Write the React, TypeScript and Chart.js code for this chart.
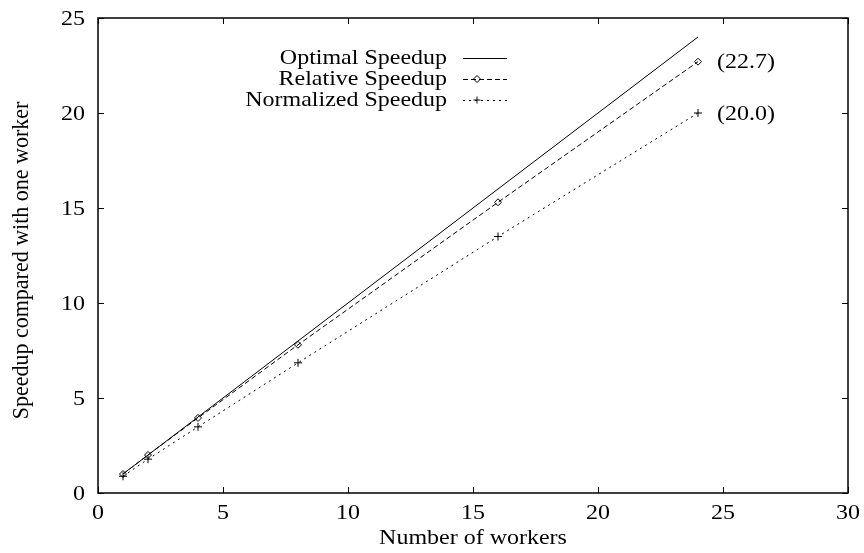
import React, { useEffect, useRef } from "react";
import { Chart, registerables } from "chart.js";

Chart.register(...registerables);

const workers = [1, 2, 4, 8, 16, 24];
const optimalSpeedup = [1, 2, 4, 8, 16, 24];
const relativeSpeedup = [1.0, 2.0, 3.95, 7.8, 15.3, 22.7];
const normalizedSpeedup = [0.88, 1.78, 3.48, 6.85, 13.5, 20.0];
const seriesNames = ["Optimal Speedup", "Relative Speedup", "Normalized Speedup"];
const xTickValues = [0, 5, 10, 15, 20, 25, 30];
const yTickValues = [0, 5, 10, 15, 20, 25];
const xTitle = "Number of workers";
const yTitle = "Speedup compared with one worker";

const FONT = '"Liberation Serif", "Times New Roman", serif';
const FS = 22;
const SX = 1.09;

function drawMarker(ctx: CanvasRenderingContext2D, style: string, x: number, y: number, r: number) {
  ctx.save();
  ctx.strokeStyle = "#000";
  ctx.lineWidth = 1;
  ctx.setLineDash([]);
  ctx.beginPath();
  if (style === "rectRot") {
    ctx.moveTo(x, y - r);
    ctx.lineTo(x + r, y);
    ctx.lineTo(x, y + r);
    ctx.lineTo(x - r, y);
    ctx.closePath();
  } else if (style === "cross") {
    ctx.moveTo(x - r, y);
    ctx.lineTo(x + r, y);
    ctx.moveTo(x, y - r);
    ctx.lineTo(x, y + r);
  }
  ctx.stroke();
  ctx.restore();
}

function text(ctx: CanvasRenderingContext2D, s: string, x: number, y: number, align: CanvasTextAlign, rot = 0) {
  ctx.save();
  ctx.translate(x, y);
  if (rot) {
    ctx.rotate(rot);
    ctx.scale(1, SX);
  } else {
    ctx.scale(SX, 1);
  }
  ctx.font = `${FS}px ${FONT}`;
  ctx.fillStyle = "#000";
  ctx.textAlign = align;
  ctx.textBaseline = "middle";
  ctx.fillText(s, 0, 0);
  ctx.restore();
}

const gnuplotPlugin = {
  id: "gnuplotDecor",
  afterDatasetsDraw(chart: any) {
    const ctx: CanvasRenderingContext2D = chart.ctx;
    const { left, right, top, bottom } = chart.chartArea;
    const xs = chart.scales.x;
    const ys = chart.scales.y;
    ctx.save();
    // border box
    ctx.strokeStyle = "#000";
    ctx.lineWidth = 1.5;
    ctx.setLineDash([]);
    ctx.strokeRect(left, top, right - left, bottom - top);
    // inward ticks (mirror)
    ctx.lineWidth = 1;
    const tl = 6;
    ctx.beginPath();
    xTickValues.forEach((v) => {
      const px = Math.round(xs.getPixelForValue(v)) + 0.5;
      ctx.moveTo(px, bottom);
      ctx.lineTo(px, bottom - tl);
      ctx.moveTo(px, top);
      ctx.lineTo(px, top + tl);
    });
    yTickValues.forEach((v) => {
      const py = Math.round(ys.getPixelForValue(v)) + 0.5;
      ctx.moveTo(left, py);
      ctx.lineTo(left + tl, py);
      ctx.moveTo(right, py);
      ctx.lineTo(right - tl, py);
    });
    ctx.stroke();

    // tick labels
    xTickValues.forEach((v) => {
      text(ctx, String(v), xs.getPixelForValue(v), bottom + 20, "center");
    });
    yTickValues.forEach((v) => {
      text(ctx, String(v), left - 13, ys.getPixelForValue(v) + 1, "right");
    });
    // axis titles
    text(ctx, xTitle, (left + right) / 2, 538, "center");
    text(ctx, yTitle, 22, (top + bottom) / 2 + 5, "center", -Math.PI / 2);

    // legend
    const textRight = 447;
    const lineStart = 463;
    const lineEnd = 507;
    const markerX = 477;
    const rowYs = [58, 79, 100];
    chart.data.datasets.forEach((ds: any, i: number) => {
      const y = rowYs[i];
      text(ctx, ds.label, textRight, y, "right");
      ctx.save();
      ctx.strokeStyle = "#000";
      ctx.lineWidth = 1;
      ctx.setLineDash(ds.borderDash || []);
      ctx.beginPath();
      ctx.moveTo(lineStart, y + 0.5);
      ctx.lineTo(lineEnd, y + 0.5);
      ctx.stroke();
      ctx.restore();
      if (ds.pointRadius > 0) drawMarker(ctx, ds.pointStyle, markerX, y, 3.5);
    });

    // end annotations
    [relativeSpeedup, normalizedSpeedup].forEach((arr) => {
      const last = arr.length - 1;
      const px = xs.getPixelForValue(workers[last]);
      const py = ys.getPixelForValue(arr[last]);
      text(ctx, `(${arr[last].toFixed(1)})`, px + 19, py + 1, "left");
    });
    ctx.restore();
  },
};

export default function App() {
  const ref = useRef<HTMLCanvasElement | null>(null);
  useEffect(() => {
    if (!ref.current) return;
    const toPts = (ys: number[]) => workers.map((x, i) => ({ x, y: ys[i] }));
    const chart = new Chart(ref.current, {
      type: "line",
      data: {
        datasets: [
          {
            label: seriesNames[0],
            data: toPts(optimalSpeedup),
            borderColor: "#000",
            borderWidth: 1,
            pointRadius: 0,
            fill: false,
          },
          {
            label: seriesNames[1],
            data: toPts(relativeSpeedup),
            borderColor: "#000",
            borderWidth: 1,
            borderDash: [5, 3],
            pointStyle: "rectRot",
            pointRadius: 3.5,
            pointBorderWidth: 1,
            pointBorderColor: "#000",
            pointBackgroundColor: "rgba(0,0,0,0)",
            fill: false,
          },
          {
            label: seriesNames[2],
            data: toPts(normalizedSpeedup),
            borderColor: "#000",
            borderWidth: 1,
            borderDash: [2, 4],
            pointStyle: "cross",
            pointRadius: 4,
            pointBorderWidth: 1,
            pointBorderColor: "#000",
            fill: false,
          },
        ],
      },
      options: {
        animation: false,
        responsive: false,
        devicePixelRatio: 1,
        layout: { padding: { top: 18, right: 16, left: 0, bottom: 0 } },
        plugins: { legend: { display: false }, tooltip: { enabled: false } },
        scales: {
          x: {
            type: "linear",
            min: 0,
            max: 30,
            afterBuildTicks: (s: any) => {
              s.ticks = xTickValues.map((v) => ({ value: v }));
            },
            afterFit: (s: any) => {
              s.height = 60;
            },
            ticks: { display: false },
            grid: { display: false, drawTicks: false },
            border: { display: false },
            title: { display: false },
          },
          y: {
            type: "linear",
            min: 0,
            max: 25,
            afterBuildTicks: (s: any) => {
              s.ticks = yTickValues.map((v) => ({ value: v }));
            },
            afterFit: (s: any) => {
              s.width = 98;
            },
            ticks: { display: false },
            grid: { display: false, drawTicks: false },
            border: { display: false },
            title: { display: false },
          },
        },
      },
      plugins: [gnuplotPlugin],
    } as any);
    return () => chart.destroy();
  }, []);
  return (
    <div style={{ position: "fixed", left: 0, top: 0, width: 864, height: 553, background: "#fff" }}>
      <canvas ref={ref} width={864} height={553} style={{ width: 864, height: 553, display: "block" }} />
    </div>
  );
}
